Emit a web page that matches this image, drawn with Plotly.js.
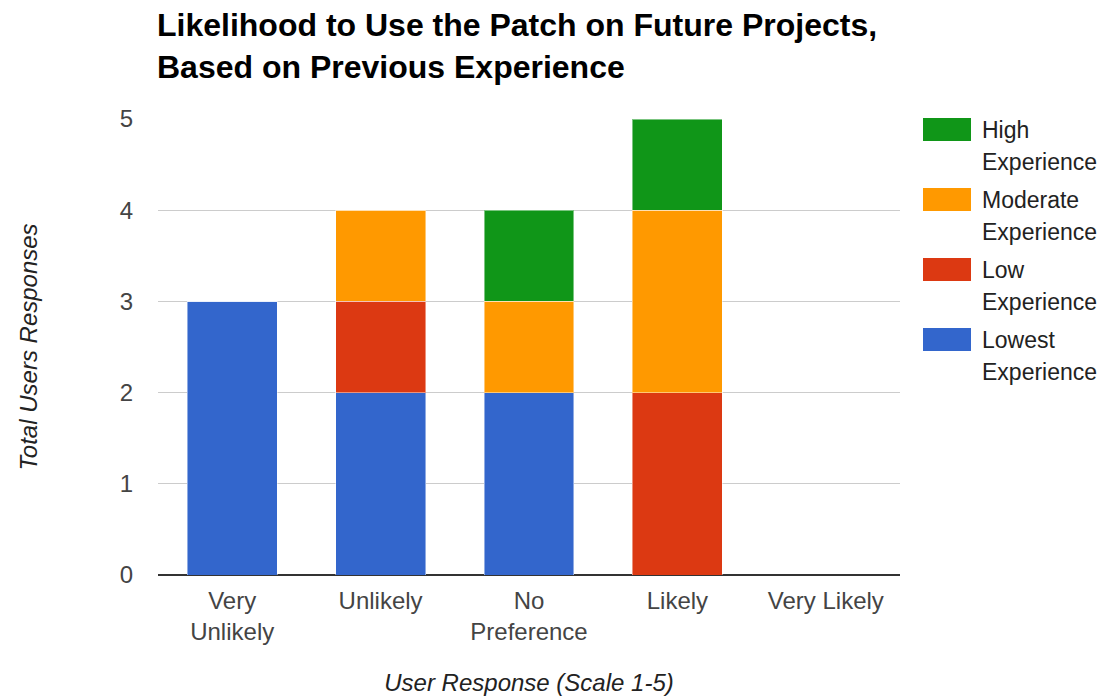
<!DOCTYPE html>
<html>
<head>
<meta charset="utf-8">
<script src="https://cdn.plot.ly/plotly-3.0.1.min.js"></script>
<style>html,body{margin:0;padding:0;background:#fff;}#chart{width:1110px;height:696px;}</style>
</head>
<body>
<div id="chart"></div>
<script>
// Data
var categories = ['Very<br>Unlikely', 'Unlikely', 'No<br>Preference', 'Likely', 'Very Likely'];
var lowestExperience = [3, 2, 2, 0, 0];
var lowExperience = [0, 1, 0, 2, 0];
var moderateExperience = [0, 1, 1, 2, 0];
var highExperience = [0, 0, 1, 1, 0];
var seriesNames = ['Lowest Experience', 'Low Experience', 'Moderate Experience', 'High Experience'];
var seriesColors = ['#3366cc', '#dc3912', '#ff9900', '#109618'];
var yTicks = [0, 1, 2, 3, 4, 5];

var seriesValues = [lowestExperience, lowExperience, moderateExperience, highExperience];
var FONT = 'Liberation Sans, Arial, sans-serif';

var traces = seriesValues.map(function (vals, i) {
  return {
    type: 'bar',
    name: seriesNames[i],
    x: categories,
    y: vals,
    marker: { color: seriesColors[i], line: { color: 'rgba(255,255,255,0.45)', width: 1 } },
    showlegend: false,
    hoverinfo: 'x+y+name'
  };
});

// Custom legend (top item = last series), built from the series arrays
var shapes = [];
var annotations = [];
var plotTop = 119, plotBottom = 575, plotLeft = 158, plotRight = 900;
var ph = plotBottom - plotTop, pw = plotRight - plotLeft;
function px2x(px) { return (px - plotLeft) / pw; }
function py2y(py) { return (plotBottom - py) / ph; }
for (var k = 0; k < seriesNames.length; k++) {
  var idx = seriesNames.length - 1 - k;
  var itemTop = 118 + k * 70;
  shapes.push({
    type: 'rect', xref: 'paper', yref: 'paper',
    x0: px2x(923), x1: px2x(971), y0: py2y(itemTop + 23), y1: py2y(itemTop),
    fillcolor: seriesColors[idx], line: { width: 0 }
  });
  var parts = seriesNames[idx].split(' ');
  for (var l = 0; l < parts.length; l++) {
    annotations.push({
      xref: 'paper', yref: 'paper', x: px2x(980), y: py2y(itemTop + 12 + l * 32),
      xanchor: 'left', yanchor: 'middle', showarrow: false,
      text: parts[l], font: { family: FONT, size: 23, color: '#222' }
    });
  }
}

var layout = {
  width: 1110, height: 696,
  paper_bgcolor: '#fff', plot_bgcolor: '#fff',
  margin: { l: 158, r: 210, t: 119, b: 121, autoexpand: false },
  barmode: 'stack',
  bargap: 0.394,
  title: {
    text: '<b>Likelihood to Use the Patch on Future Projects,<br>Based on Previous Experience</b>',
    font: { family: FONT, size: 32, color: '#000' },
    xref: 'container', yref: 'container',
    x: 157 / 1110, xanchor: 'left',
    y: 1 - 36 / 696, yanchor: 'top'
  },
  xaxis: {
    type: 'category',
    tickfont: { family: FONT, size: 24, color: '#444' },
    showgrid: false, showline: false, ticks: '', ticklabelstandoff: 9,
    automargin: false,
    title: { text: '<i>User Response (Scale 1-5)</i>', font: { family: FONT, size: 24, color: '#222' }, standoff: 30 }
  },
  yaxis: {
    range: [0, 5], tickvals: yTicks, ticktext: yTicks.map(String),
    tickfont: { family: FONT, size: 24, color: '#444' },
    showgrid: true, gridcolor: '#cccccc', gridwidth: 1,
    zeroline: true, zerolinecolor: '#333333', zerolinewidth: 2,
    showline: false, ticks: '', ticklabelstandoff: 24,
    automargin: false,
    title: { text: '<i>Total Users Responses</i>', font: { family: FONT, size: 24, color: '#222' }, standoff: 75 }
  },
  shapes: shapes,
  annotations: annotations,
  font: { family: FONT }
};

Plotly.newPlot('chart', traces, layout, { displayModeBar: false, staticPlot: true });
</script>
</body>
</html>
